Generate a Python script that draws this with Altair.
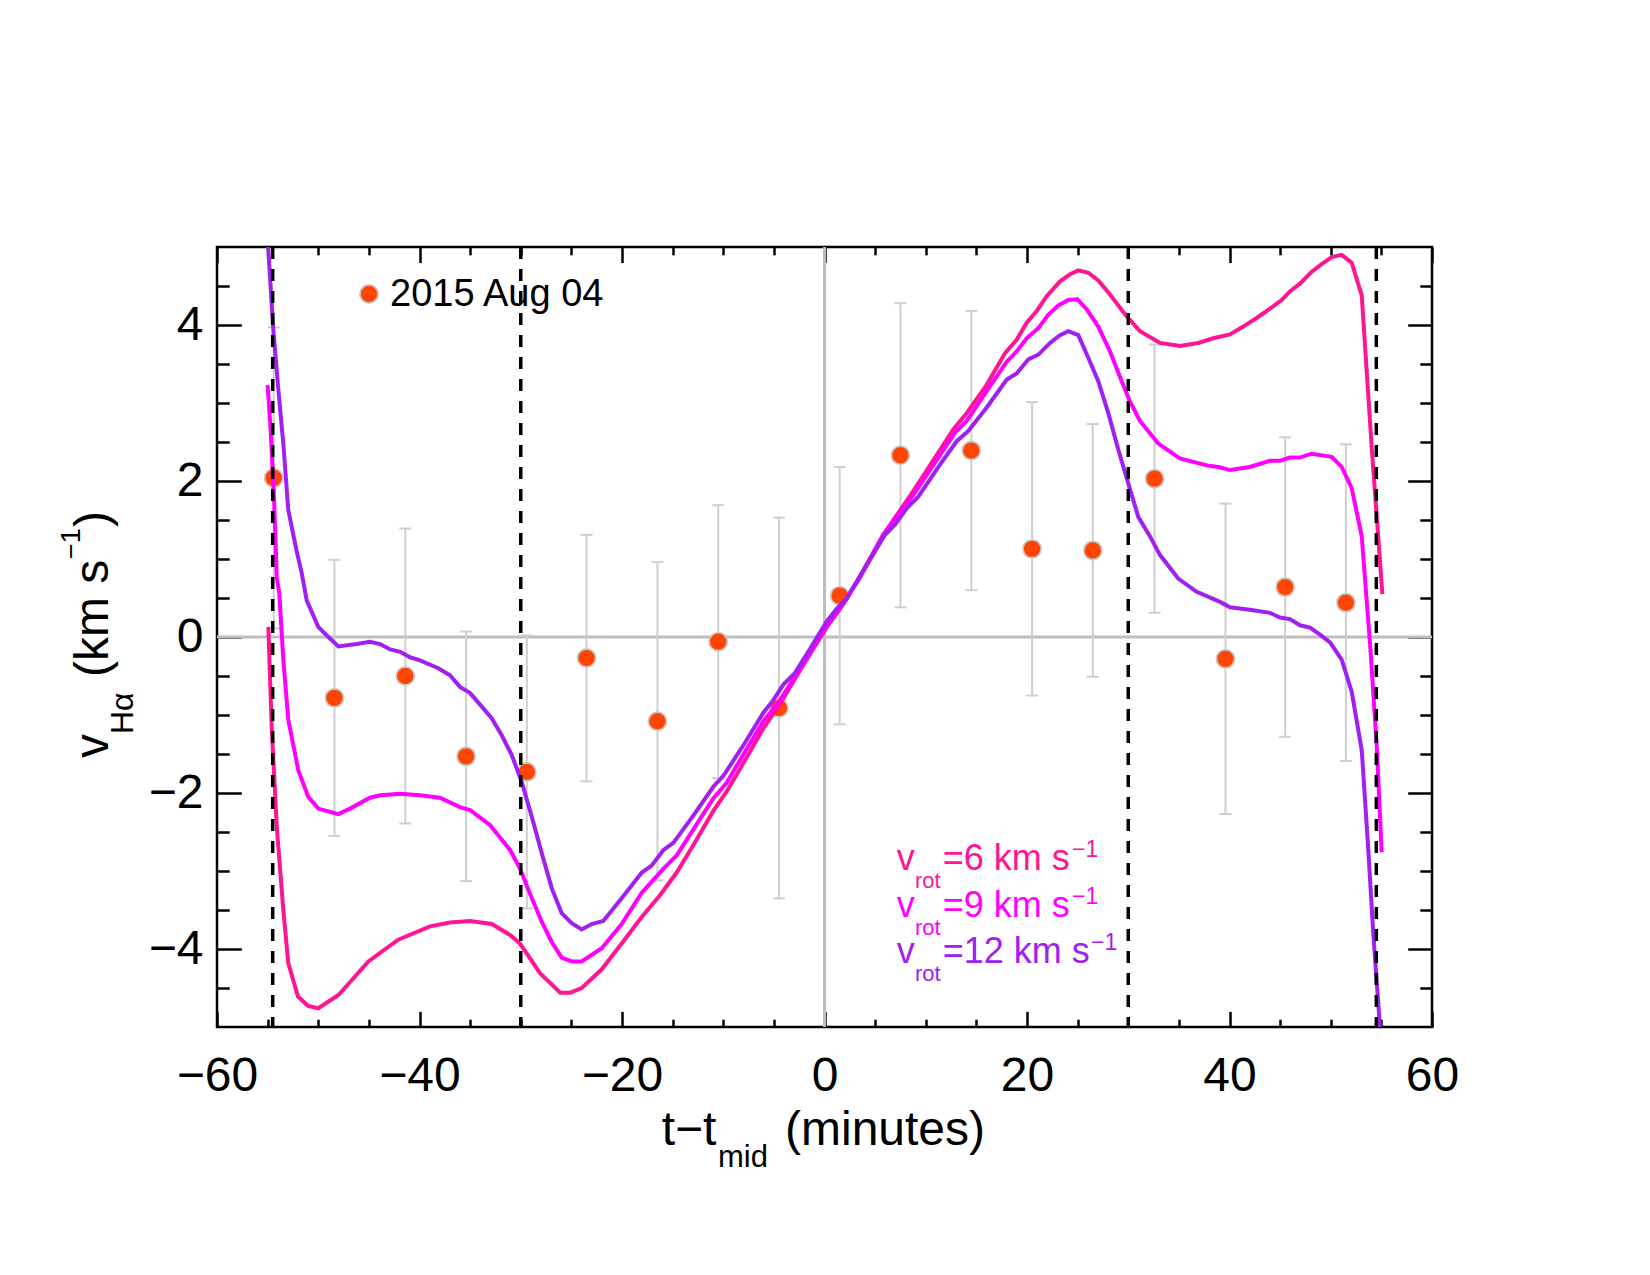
import altair as alt
import pandas as pd

FONT = "Liberation Sans"

# ---------------- data ----------------
obs_t = [-54.4, -48.4, -41.4, -35.4, -29.4, -23.5, -16.5, -10.5, -4.5, 1.5,
         7.5, 14.5, 20.5, 26.5, 32.6, 39.6, 45.5, 51.5]
obs_v = [2.04, -0.78, -0.50, -1.53, -1.73, -0.27, -1.08, -0.06, -0.91, 0.53,
         2.33, 2.39, 1.13, 1.11, 2.03, -0.28, 0.64, 0.44]
obs_err = [1.93, 1.77, 1.89, 1.60, 1.75, 1.58, 2.04, 1.75, 2.44, 1.65,
           1.95, 1.79, 1.88, 1.62, 1.72, 1.99, 1.92, 2.03]

t6 = [-54.93, -54.6, -54.1, -53.45, -52.96, -52.0, -51.0, -50.0, -48.0, -45.05,
      -42.1, -38.96, -36.99, -35.0, -32.87, -31.06, -30.07, -28.1, -26.1, -25.1,
      -23.98, -22.0, -20.03, -18.05, -16.25, -14.6, -12.96, -10.98, -9.66, -7.85,
      -6.04, -4.4, -2.75, -1.1, 0.2, 1.86, 3.5, 5.8, 8.77, 12.72,
      14.04, 16.0, 17.83, 18.98, 19.97, 20.96, 21.95, 23.26, 24.25, 25.07,
      26.05, 27.04, 28.2, 29.85, 31.16, 33.14, 35.1, 36.9, 38.4, 40.05,
      41.36, 42.68, 44.0, 45.15, 45.97, 46.96, 48.1, 49.1, 50.09, 51.08,
      52.07, 53.06, 54.04, 55.1]
v6 = [0.13, -1.15, -2.43, -3.5, -4.18, -4.61, -4.73, -4.76, -4.59, -4.16,
      -3.88, -3.71, -3.66, -3.64, -3.68, -3.82, -3.93, -4.31, -4.56, -4.56,
      -4.5, -4.26, -3.93, -3.59, -3.31, -3.02, -2.67, -2.23, -1.98, -1.58,
      -1.17, -0.86, -0.50, -0.15, 0.12, 0.42, 0.78, 1.31, 1.87, 2.66,
      2.87, 3.23, 3.64, 3.81, 4.03, 4.18, 4.37, 4.56, 4.65, 4.70,
      4.67, 4.57, 4.39, 4.11, 3.92, 3.77, 3.73, 3.77, 3.83, 3.88,
      3.98, 4.09, 4.21, 4.32, 4.43, 4.53, 4.68, 4.78, 4.87, 4.90,
      4.80, 4.38, 2.44, 0.55]

t9 = [-55.0, -54.7, -54.37, -54.1, -53.85, -53.45, -52.96, -51.97, -50.98, -50.0,
      -48.02, -46.86, -44.89, -43.9, -41.9, -39.95, -37.98, -36.0, -35.0, -33.04,
      -31.06, -30.07, -29.09, -27.93, -26.94, -25.96, -24.97, -23.98, -22.0, -20.03,
      -18.05, -15.9, -14.6, -12.96, -10.98, -9.66, -7.85, -6.04, -4.4, -2.75,
      -1.1, 0.2, 1.53, 3.5, 5.8, 7.78, 8.94, 12.89, 14.04, 16.0,
      18.0, 18.98, 19.97, 21.12, 22.1, 23.1, 24.08, 24.97, 25.9, 27.04,
      28.2, 29.35, 30.17, 31.16, 32.97, 35.1, 37.75, 38.9, 40.05, 42.0,
      44.0, 44.99, 45.97, 46.96, 48.1, 50.09, 51.08, 52.07, 53.06, 53.9,
      54.54, 55.03]
v9 = [3.23, 2.65, 1.80, 0.77, 0.56, -0.29, -1.06, -1.71, -2.05, -2.20,
      -2.27, -2.20, -2.06, -2.03, -2.01, -2.03, -2.06, -2.18, -2.22, -2.41,
      -2.73, -2.97, -3.29, -3.65, -3.91, -4.11, -4.16, -4.16, -3.99, -3.68,
      -3.28, -2.97, -2.8, -2.47, -2.07, -1.87, -1.47, -1.08, -0.81, -0.48,
      -0.13, 0.14, 0.37, 0.76, 1.31, 1.65, 1.85, 2.62, 2.77, 3.15,
      3.53, 3.66, 3.83, 3.96, 4.13, 4.25, 4.32, 4.33, 4.20, 3.98,
      3.66, 3.28, 3.02, 2.77, 2.48, 2.29, 2.20, 2.18, 2.14, 2.18,
      2.26, 2.26, 2.30, 2.30, 2.35, 2.31, 2.18, 1.91, 1.29, -0.12,
      -1.39, -2.76]

t12 = [-54.95, -54.44, -53.94, -53.45, -52.96, -52.13, -51.63, -51.14, -50.0, -49.0,
       -48.02, -46.2, -44.89, -43.9, -42.9, -41.9, -40.94, -39.95, -38.14, -36.99,
       -36.0, -35.0, -34.0, -32.87, -31.88, -30.9, -29.9, -28.92, -27.93, -26.94,
       -25.96, -24.97, -23.98, -23.0, -21.85, -20.03, -18.05, -17.07, -15.9, -14.93,
       -12.96, -10.98, -9.99, -8.02, -6.04, -5.06, -4.07, -2.91, -1.43, 0.22,
       1.2, 2.19, 3.5, 5.98, 6.96, 8.12, 9.26, 11.41, 13.06, 14.2,
       16.0, 18.0, 18.98, 20.13, 21.12, 22.27, 23.26, 24.08, 25.07, 26.05,
       27.04, 28.03, 29.02, 30.0, 30.99, 32.15, 33.14, 34.94, 36.76, 39.06,
       40.05, 42.0, 44.0, 44.99, 45.97, 46.96, 47.95, 48.94, 49.93, 51.08,
       52.07, 53.06, 53.71, 54.2, 54.86]
v12 = [5.0, 3.94, 3.17, 2.48, 1.63, 1.10, 0.82, 0.47, 0.13, 0.0,
       -0.12, -0.09, -0.06, -0.09, -0.16, -0.19, -0.26, -0.30, -0.40, -0.49,
       -0.64, -0.72, -0.87, -1.04, -1.26, -1.51, -1.86, -2.30, -2.77, -3.22,
       -3.54, -3.67, -3.75, -3.68, -3.64, -3.35, -3.02, -2.93, -2.73, -2.64,
       -2.29, -1.92, -1.78, -1.39, -0.97, -0.81, -0.61, -0.46, -0.15, 0.2,
       0.36, 0.49, 0.78, 1.31, 1.44, 1.65, 1.80, 2.21, 2.51, 2.64,
       2.94, 3.30, 3.38, 3.56, 3.62, 3.77, 3.87, 3.92, 3.87, 3.58,
       3.28, 2.87, 2.40, 1.97, 1.54, 1.29, 1.05, 0.75, 0.58, 0.45,
       0.38, 0.35, 0.31, 0.25, 0.23, 0.15, 0.12, 0.03, -0.07, -0.29,
       -0.70, -1.45, -2.73, -3.80, -5.0]

dashed_t = [-54.5, -30.0, 30.0, 54.5]

x_major = [-60, -40, -20, 0, 20, 40, 60]
x_minor = [-55, -50, -45, -35, -30, -25, -15, -10, -5, 5, 10, 15, 25, 30, 35, 45, 50, 55]
y_major = [-4, -2, 0, 2, 4]
y_minor = [-4.5, -3.5, -3, -2.5, -1.5, -1, -0.5, 0.5, 1, 1.5, 2.5, 3, 3.5, 4.5]

legend_obs = "2015 Aug 04"
vrot_values = ["=6 km s", "=9 km s", "=12 km s"]
vrot_colors = ["#FF1493", "#FF00FF", "#A020F0"]

# ---------------- styling ----------------
W, H = 1215, 780
XS = alt.Scale(domain=[-60, 60], nice=False, zero=False)
YS = alt.Scale(domain=[-5, 5], nice=False, zero=False)
MAJ_X, MIN_X = 15.6, 7.8   # tick lengths of x axes (vertical ticks)
MAJ_Y, MIN_Y = 24.3, 12.2  # tick lengths of y axes (horizontal ticks)

dummy = pd.DataFrame({"t": [0.0], "v": [0.0]})
obs = pd.DataFrame({"t": obs_t, "v": obs_v, "e": obs_err})
obs["lo"] = obs["v"] - obs["e"]
obs["hi"] = obs["v"] + obs["e"]


def axis_layer(channel, orient, values, size, show_labels, pad):
    ax = alt.Axis(orient=orient, values=values, tickSize=size, offset=-size,
                  domain=False, grid=False, labels=show_labels, title=None,
                  ticks=True, tickColor="black", tickWidth=2.5,
                  labelFont=FONT, labelFontSize=48, labelColor="black",
                  labelPadding=pad, labelFlush=False, labelOverlap=False)
    if channel == "x":
        enc = dict(x=alt.X("t:Q", scale=XS, axis=ax), y=alt.Y("v:Q", scale=YS, axis=None))
    else:
        enc = dict(x=alt.X("t:Q", scale=XS, axis=None), y=alt.Y("v:Q", scale=YS, axis=ax))
    return alt.Chart(dummy).mark_point(opacity=0).encode(**enc)


def txt(s, x, y, size, color="black", angle=0):
    return alt.Chart(dummy).mark_text(
        text=s, align="left", baseline="alphabetic", font=FONT, fontSize=size,
        color=color, angle=angle).encode(x=alt.value(x), y=alt.value(y))


layers = []

# zero reference lines
layers.append(alt.Chart(dummy).mark_rule(color="#BEBEBE", strokeWidth=3).encode(
    y=alt.Y("v:Q", scale=YS, axis=None)))
layers.append(alt.Chart(dummy).mark_rule(color="#BEBEBE", strokeWidth=3).encode(
    x=alt.X("t:Q", scale=XS, axis=None)))

# error bars and caps
layers.append(alt.Chart(obs).mark_rule(color="#CFCFCF", strokeWidth=2).encode(
    x=alt.X("t:Q", scale=XS, axis=None), y=alt.Y("lo:Q", scale=YS, axis=None), y2="hi:Q"))
for col in ["lo", "hi"]:
    layers.append(alt.Chart(obs).mark_tick(orient="horizontal", size=12, thickness=2,
                                            color="#CFCFCF", opacity=1).encode(
        x=alt.X("t:Q", scale=XS, axis=None), y=alt.Y(col + ":Q", scale=YS, axis=None)))

# observed points
layers.append(alt.Chart(obs).mark_circle(size=330, color="#FF4500", opacity=1,
                                         stroke="#C8C8C8", strokeWidth=1.8).encode(
    x=alt.X("t:Q", scale=XS, axis=None), y=alt.Y("v:Q", scale=YS, axis=None)))

# model curves
for tt, vv, col in [(t6, v6, vrot_colors[0]), (t9, v9, vrot_colors[1]), (t12, v12, vrot_colors[2])]:
    d = pd.DataFrame({"t": tt, "v": vv})
    layers.append(alt.Chart(d).mark_line(color=col, strokeWidth=4, clip=True).encode(
        x=alt.X("t:Q", scale=XS, axis=None), y=alt.Y("v:Q", scale=YS, axis=None),
        order="t:Q"))

# dashed vertical lines
layers.append(alt.Chart(pd.DataFrame({"t": dashed_t})).mark_rule(
    color="black", strokeWidth=3.5, strokeDash=[12, 10]).encode(
    x=alt.X("t:Q", scale=XS, axis=None)))

# axes (ticks inside on all four sides)
layers.append(axis_layer("x", "bottom", x_major, MAJ_X, True, 25))
layers.append(axis_layer("x", "bottom", x_minor, MIN_X, False, 25))
layers.append(axis_layer("x", "top", x_major, MAJ_X, False, 25))
layers.append(axis_layer("x", "top", x_minor, MIN_X, False, 25))
layers.append(axis_layer("y", "left", y_major, MAJ_Y, True, 14))
layers.append(axis_layer("y", "left", y_minor, MIN_Y, False, 14))
layers.append(axis_layer("y", "right", y_major, MAJ_Y, False, 14))
layers.append(axis_layer("y", "right", y_minor, MIN_Y, False, 14))

# observation legend
layers.append(alt.Chart(dummy).mark_circle(size=330, color="#FF4500", opacity=1,
                                           stroke="#C8C8C8", strokeWidth=1.8).encode(
    x=alt.value(152), y=alt.value(47)))
layers.append(txt(legend_obs, 173, 59, 38))

# model legend
for i, (val, col) in enumerate(zip(vrot_values, vrot_colors)):
    by = 623 + 46.7 * i
    layers.append(txt("v", 679.7, by, 36, col))
    layers.append(txt("rot", 698, by + 18, 22, col))
    layers.append(txt(val, 725.7, by, 36, col))
    layers.append(txt("\u22121", 855 if i < 2 else 874, by - 13, 23, col))

# x-axis title
layers.append(txt("t\u2212t", 444.7, 898, 48))
layers.append(txt("mid", 501, 920, 31))
layers.append(txt("(minutes)", 568, 898, 48))

# y-axis title (rotated)
layers.append(txt("v", -109, 511, 48, angle=270))
layers.append(txt("H\u03b1", -84, 487, 32, angle=270))
layers.append(txt("(km s", -109, 430, 48, angle=270))
layers.append(txt("\u22121", -137, 312, 27, angle=270))
layers.append(txt(")", -109, 280, 48, angle=270))

chart = alt.layer(*layers).resolve_axis(x="independent", y="independent").properties(
    width=W, height=H,
    autosize=alt.AutoSizeParams(type="none"),
    padding={"left": 217, "top": 247, "right": 218, "bottom": 248},
    background="white",
).configure_view(stroke="black", strokeWidth=2.5)

chart.save("out.html", embed_options={"renderer": "svg", "actions": False})
